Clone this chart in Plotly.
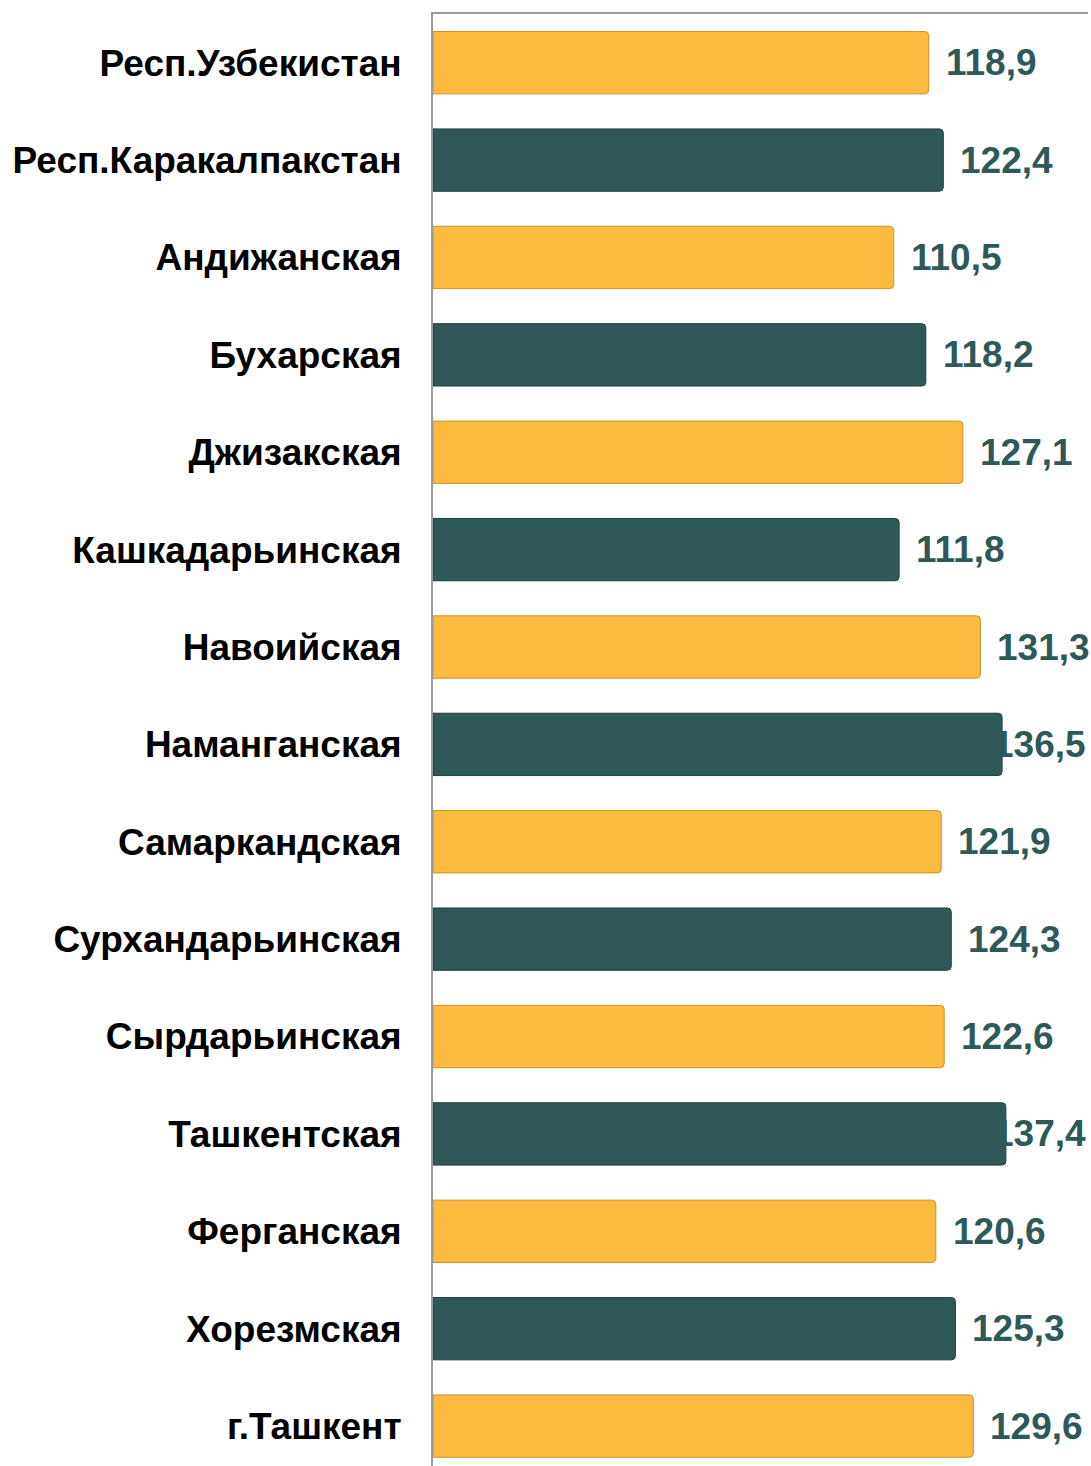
import plotly.graph_objects as go

categories = ["Респ.Узбекистан", "Респ.Каракалпакстан", "Андижанская", "Бухарская",
              "Джизакская", "Кашкадарьинская", "Навоийская", "Наманганская",
              "Самаркандская", "Сурхандарьинская", "Сырдарьинская", "Ташкентская",
              "Ферганская", "Хорезмская", "г.Ташкент"]
values = [118.9, 122.4, 110.5, 118.2, 127.1, 111.8, 131.3, 136.5,
          121.9, 124.3, 122.6, 137.4, 120.6, 125.3, 129.6]

YELLOW = "#FDBB40"
TEAL = "#2F5959"
colors = [YELLOW if i % 2 == 0 else TEAL for i in range(len(values))]
line_colors = ["#C9912A" if i % 2 == 0 else "#1F3E3E" for i in range(len(values))]
pos = list(range(len(categories)))

XMAX = 157.1
fig = go.Figure(go.Bar(
    x=values, y=pos, orientation="h",
    marker=dict(color=colors, line=dict(color=line_colors, width=1)),
    width=0.64,
))

FONT = "Arial, 'Liberation Sans', sans-serif"
ann = []
for i, v in enumerate(values):
    label = f"{v:.1f}".replace(".", ",")
    if v > 132:
        ann.append(dict(x=1, xref="paper", y=i, yref="y", text=f"<b>{label}</b>",
                        xanchor="right", showarrow=False,
                        font=dict(family=FONT, size=37, color=TEAL)))
    else:
        ann.append(dict(x=v, y=i, text=f"<b>{label}</b>", xanchor="left", xshift=15,
                        showarrow=False, font=dict(family=FONT, size=37, color=TEAL)))

fig.update_layout(
    width=1091, height=1466,
    margin=dict(l=433, r=3, t=14, b=0),
    paper_bgcolor="white", plot_bgcolor="white",
    showlegend=False,
    barcornerradius=4,
    annotations=ann,
    xaxis=dict(range=[0, XMAX], side="top", showline=True, linecolor="#9A9A9A",
               linewidth=2, showgrid=False, zeroline=False, showticklabels=False,
               ticks=""),
    yaxis=dict(range=[14.41, -0.5], tickvals=pos,
               ticktext=[f"<b>{c}</b>" for c in categories],
               tickfont=dict(family=FONT, size=37, color="black"),
               showline=True, linecolor="#9A9A9A", linewidth=2, showgrid=False,
               zeroline=False, ticks="", ticklabelstandoff=22),
)

fig.write_html("out.html", config={"displayModeBar": False},
               post_script="document.body.style.margin='0';document.body.style.overflow='hidden';")
